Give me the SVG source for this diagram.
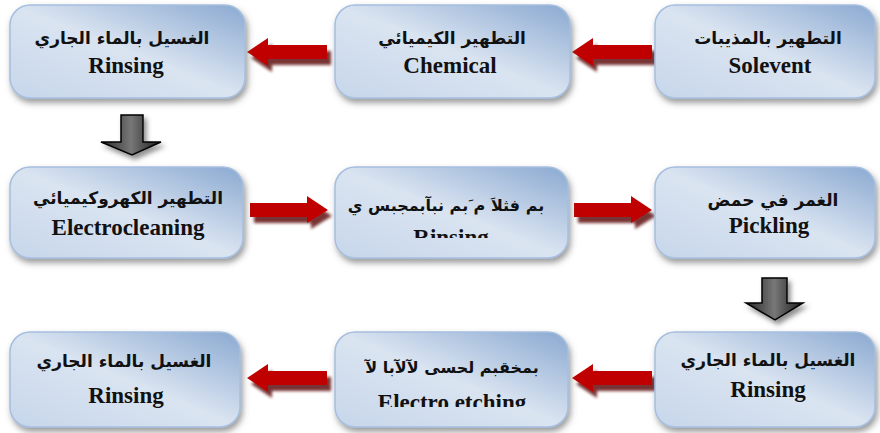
<svg xmlns="http://www.w3.org/2000/svg" width="880" height="433" viewBox="0 0 880 433">
<defs>
<linearGradient id="boxg" x1="1" y1="0" x2="0" y2="1">
<stop offset="0" stop-color="#8aa9d1"/>
<stop offset="0.5" stop-color="#dae4f1"/>
<stop offset="1" stop-color="#c6d6ea"/>
</linearGradient>
<linearGradient id="downg" x1="0" y1="0" x2="1" y2="0">
<stop offset="0" stop-color="#2a2a2a"/>
<stop offset="0.5" stop-color="#777"/>
<stop offset="1" stop-color="#1a1a1a"/>
</linearGradient>
<filter id="sh" x="-10%" y="-10%" width="125%" height="135%">
<feDropShadow dx="2" dy="4" stdDeviation="3" flood-color="#555" flood-opacity="0.6"/>
</filter>
<filter id="ash" x="-20%" y="-30%" width="150%" height="170%">
<feDropShadow dx="4" dy="6" stdDeviation="1.5" flood-color="#6b1c1c" flood-opacity="0.9"/>
</filter>
<filter id="dsh" x="-30%" y="-20%" width="170%" height="160%">
<feDropShadow dx="3" dy="4" stdDeviation="2.5" flood-color="#444" flood-opacity="0.6"/>
</filter>
<clipPath id="clipE"><rect x="335" y="160" width="240" height="78"/></clipPath>
<clipPath id="clipH"><rect x="335" y="330" width="240" height="77"/></clipPath>
<path id="larrow" d="M0,0 L21,-14 L21,-7 L80,-7 L80,7 L21,7 L21,14 Z"/>
<path id="rarrow" d="M0,-7 L57,-7 L57,-14 L78,0 L57,13 L57,7 L0,7 Z"/>
</defs>
<style>
.box{fill:url(#boxg);stroke:#a6bfdf;stroke-width:1.5;filter:url(#sh)}
.ar{font-family:"DejaVu Sans",sans-serif;font-weight:bold;font-size:17px;fill:#111;text-anchor:middle}
.arm{font-size:16px}
.en{font-family:"Liberation Serif","Times New Roman","DejaVu Serif",serif;font-weight:bold;font-size:23px;fill:#111;text-anchor:middle}
.red{fill:#c00000;filter:url(#ash)}
.down{fill:url(#downg);stroke:#000;stroke-width:1.5;filter:url(#dsh)}
</style>
<rect width="880" height="433" fill="#fff"/>

<g id="connectors">
<use href="#larrow" class="red" x="247" y="52"/>
<use href="#larrow" class="red" x="572" y="52"/>
<path class="down" d="M121,115 L143,115 L143,142 L161,142 L132,155 L101,142 L121,142 Z"/>
<use href="#rarrow" class="red" x="250" y="210"/>
<use href="#rarrow" class="red" x="574" y="210"/>
<path class="down" d="M762,278 L787,278 L787,303 L803,303 L775,320 L746,303 L762,303 Z"/>
<use href="#larrow" class="red" x="247" y="378"/>
<use href="#larrow" class="red" x="572" y="378"/>
</g>

<g id="n1">
<rect class="box" x="10" y="5" width="235" height="93" rx="20"/>
<text class="ar" x="122" y="44">الغسيل بالماء الجاري</text>
<text class="en" x="126" y="73" font-family="Liberation Serif, serif">Rinsing</text>
</g>
<g id="n2">
<rect class="box" x="335" y="5" width="235" height="93" rx="20"/>
<text class="ar" x="452" y="44">التطهير الكيميائي</text>
<text class="en" x="450" y="73" font-family="Liberation Serif, serif">Chemical</text>
</g>
<g id="n3">
<rect class="box" x="655" y="5" width="220" height="93" rx="20"/>
<text class="ar" x="768" y="44">التطهير بالمذيبات</text>
<text class="en" x="770" y="73" font-family="Liberation Serif, serif">Solevent</text>
</g>

<g id="n4">
<rect class="box" x="10" y="167" width="233" height="91" rx="20"/>
<text class="ar" x="128" y="204">التطهير الكهروكيميائي</text>
<text class="en" x="128" y="235" font-family="Liberation Serif, serif">Electrocleaning</text>
</g>
<g id="n5">
<rect class="box" x="335" y="167" width="233" height="91" rx="20"/>
<text class="ar arm" x="446" y="211">بم فثلاَ م َبم نبآبمجبس ي</text>
<text class="en" x="451" y="245" clip-path="url(#clipE)" font-family="Liberation Serif, serif">Rinsing</text>
</g>
<g id="n6">
<rect class="box" x="655" y="167" width="220" height="91" rx="20"/>
<text class="ar" x="773" y="206">الغمر في حمض</text>
<text class="en" x="769" y="233" font-family="Liberation Serif, serif">Pickling</text>
</g>

<g id="n7">
<rect class="box" x="10" y="332" width="230" height="95" rx="20"/>
<text class="ar" x="124" y="367">الغسيل بالماء الجاري</text>
<text class="en" x="126" y="403" font-family="Liberation Serif, serif">Rinsing</text>
</g>
<g id="n8">
<rect class="box" x="335" y="332" width="233" height="95" rx="20"/>
<text class="ar arm" x="452" y="373">بمخقبم لحسى لآلآبا لآ</text>
<text class="en" x="452" y="410" clip-path="url(#clipH)" font-family="Liberation Serif, serif">Electro etching</text>
</g>
<g id="n9">
<rect class="box" x="655" y="332" width="220" height="95" rx="20"/>
<text class="ar" x="768" y="366">الغسيل بالماء الجاري</text>
<text class="en" x="768" y="397" font-family="Liberation Serif, serif">Rinsing</text>
</g>
</svg>
